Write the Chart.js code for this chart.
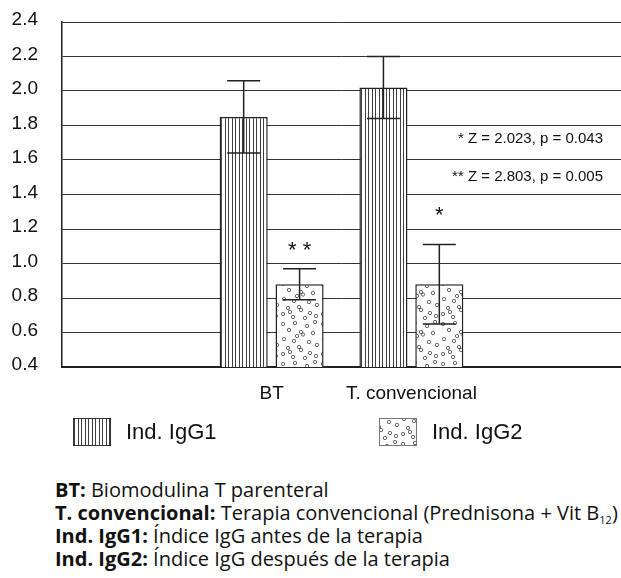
<!DOCTYPE html>
<html>
<head>
<meta charset="utf-8">
<script src="https://cdn.jsdelivr.net/npm/chart.js@4.4.1/dist/chart.umd.min.js"></script>
<style>
  html, body { margin: 0; padding: 0; background: #fff; overflow: hidden; }
  #wrap { position: relative; width: 621px; height: 578px; }
  #chart { position: absolute; left: 0; top: 0; }
  #notes {
    position: absolute; left: 55px; top: 478px;
    font-family: "Open Sans", sans-serif; font-size: 20px; line-height: 23px;
    color: #111; white-space: nowrap;
  }
  #notes b { font-weight: 700; }
  #notes sub { font-size: 11px; vertical-align: -4px; line-height: 0; }
</style>
</head>
<body>
<div id="wrap">
  <canvas id="chart" width="621" height="460"></canvas>
  <div id="notes">
    <div><b>BT:</b> Biomodulina T parenteral</div>
    <div><b>T. convencional:</b> Terapia convencional (Prednisona + Vit B<sub>12</sub>)</div>
    <div><b>Ind. IgG1:</b> Índice IgG antes de la terapia</div>
    <div><b>Ind. IgG2:</b> Índice IgG después de la terapia</div>
  </div>
</div>
<script>
// data
const categories = ['BT', 'T. convencional'];
const igg1 = [1.85, 2.02];
const igg1Err = [0.21, 0.18];
const igg2 = [0.88, 0.88];
const igg2Err = [0.09, 0.23];
const igg2Marks = ['* *', '*'];
const yTicks = [0.4, 0.6, 0.8, 1.0, 1.2, 1.4, 1.6, 1.8, 2.0, 2.2, 2.4];
const statNotes = ['* Z = 2.023, p = 0.043', '** Z = 2.803, p = 0.005'];

// one empty slot each side so the groups sit where the original puts them
const labels = ['', ...categories, ''];
const pad = arr => [null, ...arr, null];

function stripePattern() {
  const c = document.createElement('canvas');
  c.width = 7; c.height = 7;
  const g = c.getContext('2d');
  g.fillStyle = '#fff';
  g.fillRect(0, 0, 7, 7);
  g.fillStyle = '#404040';
  g.fillRect(1, 0, 1, 7);
  g.fillRect(4, 0, 1, 7);
  return g.createPattern(c, 'repeat');
}

function dotPattern() {
  const c = document.createElement('canvas');
  c.width = 40; c.height = 40;
  const g = c.getContext('2d');
  g.fillStyle = '#fff';
  g.fillRect(0, 0, 40, 40);
  g.strokeStyle = '#444';
  g.lineWidth = 0.8;
  const spots = [
    [3, 4], [15, 3], [27, 6], [35, 2], [9, 10], [21, 12], [23, 14.5], [33, 13],
    [4, 19], [14, 21], [29, 22], [37, 25], [8, 28], [19, 27], [21, 30],
    [30, 33], [3, 34], [13, 37], [25, 38], [36, 36], [17, 16], [10, 32],
  ];
  spots.forEach(([x, y]) => {
    g.beginPath();
    g.arc(x, y, 1.7, 0, Math.PI * 2);
    g.stroke();
  });
  return g.createPattern(c, 'repeat');
}

const stripes = stripePattern();
const dots = dotPattern();

const errorBars = {
  id: 'errorBars',
  afterDatasetsDraw(chart) {
    const {ctx, scales: {y}} = chart;
    ctx.save();
    ctx.strokeStyle = '#222';
    ctx.lineWidth = 1.5;
    chart.data.datasets.forEach((ds, i) => {
      const meta = chart.getDatasetMeta(i);
      meta.data.forEach((bar, j) => {
        const v = ds.data[j];
        const e = ds.errors[j];
        if (v == null || e == null) return;
        const top = y.getPixelForValue(v + e);
        const bot = y.getPixelForValue(v - e);
        const half = 16.5;
        ctx.beginPath();
        ctx.moveTo(bar.x, top); ctx.lineTo(bar.x, bot);
        ctx.moveTo(bar.x - half, top); ctx.lineTo(bar.x + half, top);
        ctx.moveTo(bar.x - half, bot); ctx.lineTo(bar.x + half, bot);
        ctx.stroke();
      });
    });
    ctx.restore();
  }
};

const extras = {
  id: 'extras',
  afterDraw(chart, args, opts) {
    const {ctx, scales: {y}, chartArea} = chart;
    ctx.save();
    ctx.fillStyle = '#111';

    // significance stars over the IgG2 bars
    const meta = chart.getDatasetMeta(1);
    ctx.font = '22px "Liberation Sans", Arial, sans-serif';
    ctx.textAlign = 'center';
    ctx.textBaseline = 'alphabetic';
    igg2Marks.forEach((m, k) => {
      const bar = meta.data[k + 1];
      const cy = y.getPixelForValue(opts.markAt[k]);
      ctx.fillText(m, bar.x, cy + 9);
    });

    // Z test notes
    ctx.font = '15px "Liberation Sans", Arial, sans-serif';
    ctx.textAlign = 'right';
    ctx.textBaseline = 'middle';
    statNotes.forEach((t, k) => {
      ctx.fillText(t, chartArea.right - 18, y.getPixelForValue(opts.noteAt[k]));
    });

    // legend
    ctx.font = '22px "Liberation Sans", Arial, sans-serif';
    ctx.textAlign = 'left';
    chart.data.datasets.forEach((ds, i) => {
      const x = opts.legendX[i];
      const top = opts.legendTop;
      ctx.fillStyle = ds.backgroundColor;
      ctx.fillRect(x, top, 38, 28);
      ctx.strokeStyle = i === 0 ? '#333' : '#777';
      ctx.lineWidth = 1;
      ctx.strokeRect(x + 0.5, top + 0.5, 37, 27);
      ctx.fillStyle = '#111';
      ctx.fillText(ds.label, x + 53, top + 15);
    });
    ctx.restore();
  }
};

new Chart(document.getElementById('chart'), {
  type: 'bar',
  data: {
    labels: labels,
    datasets: [
      {
        label: 'Ind. IgG1',
        data: pad(igg1),
        errors: pad(igg1Err),
        backgroundColor: stripes,
        borderColor: '#222',
        borderWidth: 1.5,
      },
      {
        label: 'Ind. IgG2',
        data: pad(igg2),
        errors: pad(igg2Err),
        backgroundColor: dots,
        borderColor: '#222',
        borderWidth: 1.5,
      },
    ],
  },
  options: {
    responsive: false,
    animation: false,
    events: [],
    categoryPercentage: 0.8,
    barPercentage: 0.86,
    layout: {padding: {top: 22, right: 0, bottom: 53, left: 0}},
    plugins: {
      legend: {display: false},
      tooltip: {enabled: false},
      extras: {
        markAt: [1.09, 1.29],
        noteAt: [1.72, 1.50],
        legendX: [73, 379],
        legendTop: 418,
      },
    },
    scales: {
      x: {
        grid: {display: false},
        border: {display: true, color: '#222', width: 2},
        ticks: {
          color: '#111',
          font: {family: '"Liberation Sans", Arial, sans-serif', size: 19},
          padding: 7,
          maxRotation: 0,
          autoSkip: false,
        },
        afterFit(scale) { scale.height = 40; },
      },
      y: {
        min: 0.4,
        max: 2.4,
        afterBuildTicks(scale) { scale.ticks = yTicks.map(v => ({value: v})); },
        grid: {color: '#333', lineWidth: 1, drawTicks: false},
        border: {display: true, color: '#222', width: 1.5},
        ticks: {
          color: '#111',
          font: {family: '"Liberation Sans", Arial, sans-serif', size: 19},
          padding: 24,
          labelOffset: -2,
          callback: v => Number(v).toFixed(1),
        },
        afterFit(scale) {
          scale.width = 62;
          scale.paddingTop = 0;
          scale.paddingBottom = 0;
        },
      },
    },
  },
  plugins: [errorBars, extras],
});
</script>
</body>
</html>
